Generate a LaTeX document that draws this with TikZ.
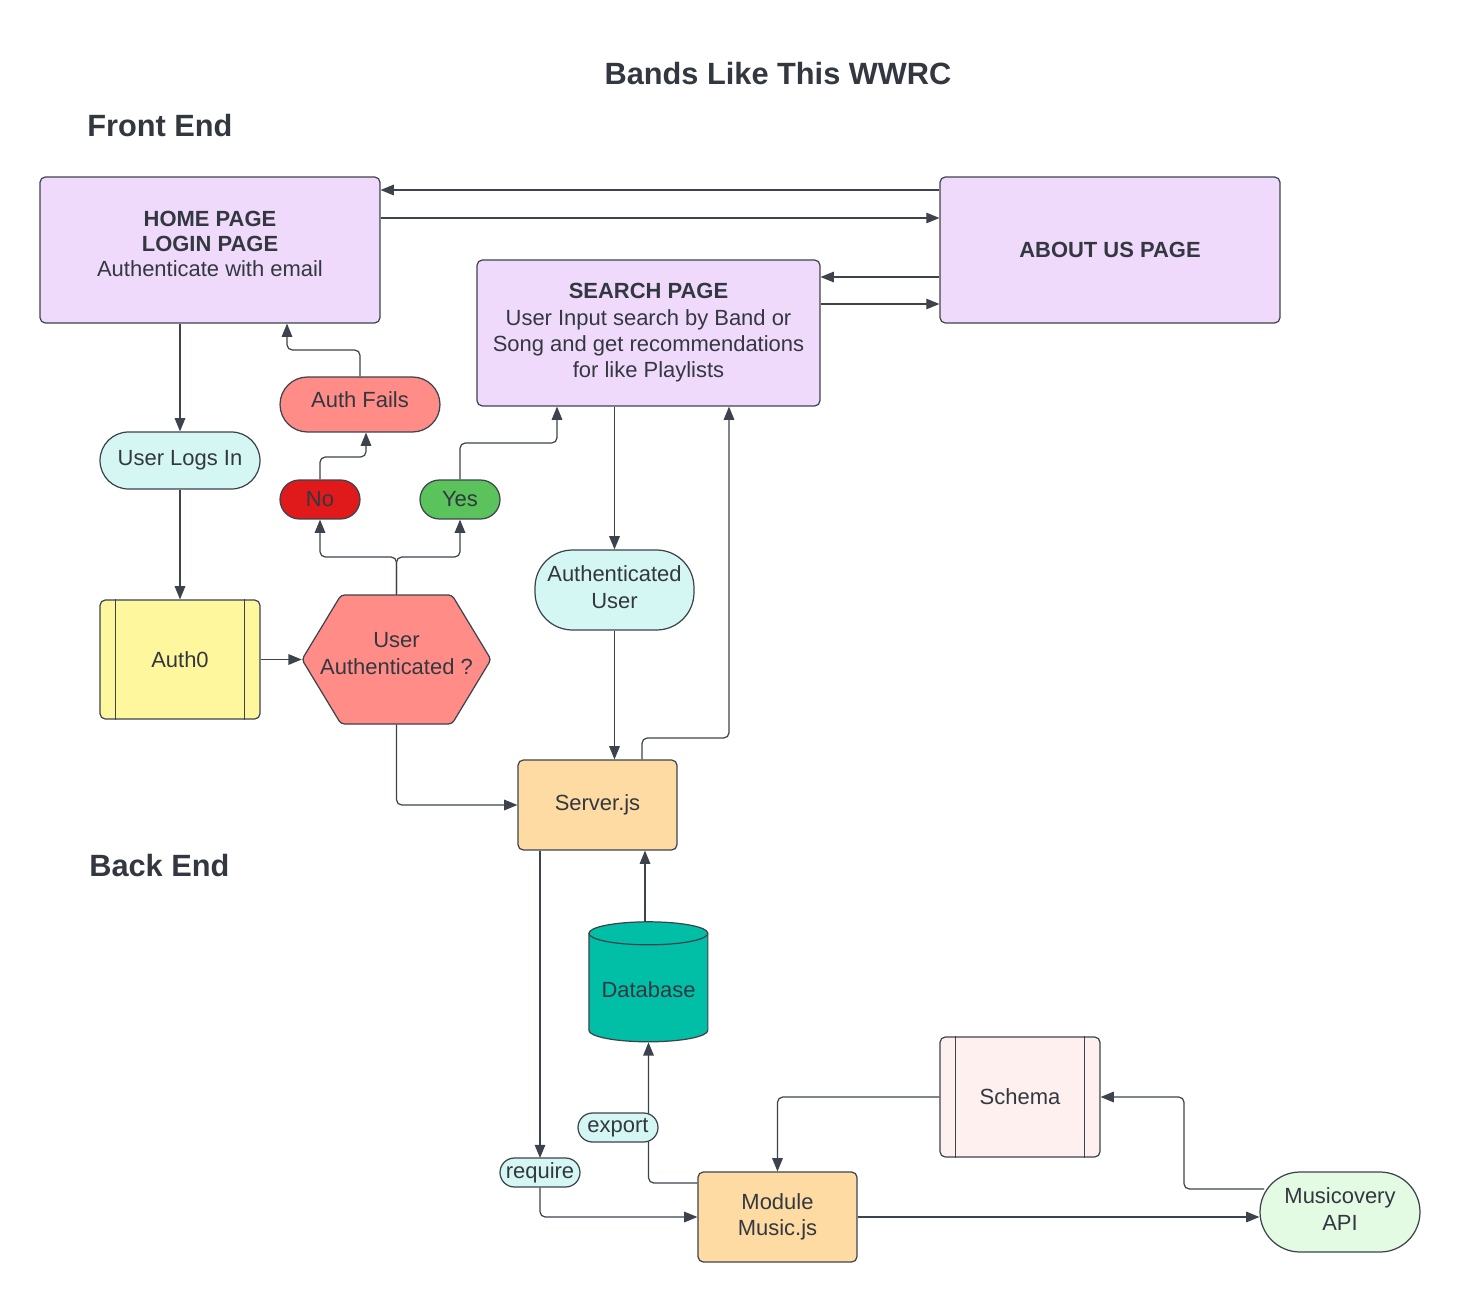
\documentclass[tikz,border=0pt]{standalone}
\usepackage{fontspec}
\setmainfont{Liberation Sans}
\usetikzlibrary{arrows.meta,shapes.misc,calc}
\definecolor{edgec}{HTML}{3D434D}
\definecolor{txtc}{HTML}{333840}
\definecolor{pagec}{HTML}{F0DAFB}
\definecolor{cyanc}{HTML}{D5F7F3}
\definecolor{yellowc}{HTML}{FFF79E}
\definecolor{redc}{HTML}{FF8C87}
\definecolor{noc}{HTML}{E01A1A}
\definecolor{yesc}{HTML}{5AC35C}
\definecolor{orangec}{HTML}{FDDBA2}
\definecolor{dbc}{HTML}{00BFA6}
\definecolor{schemac}{HTML}{FDF0EE}
\definecolor{musicc}{HTML}{E3FAE3}
\newcommand\fsbody{\fontsize{12.5}{15}\selectfont}
\newcommand\fshead{\fontsize{12.5}{14}\selectfont\bfseries}
\newcommand\fsplain{\fontsize{12.5}{14}\selectfont\mdseries}
\begin{document}
\begin{tikzpicture}[x=0.02cm,y=-0.02cm,
  base/.style={draw=edgec, line width=0.7pt, text=txtc, font=\fsbody, align=center, inner sep=0pt},
  page/.style={base, fill=pagec, rounded corners=3pt, minimum width=6.8cm, minimum height=2.92cm},
  pill/.style={base, rounded rectangle, fill=cyanc},
  proc/.style={base, rounded corners=3pt, minimum width=3.18cm, minimum height=1.8cm, fill=orangec},
  sub/.style={base, rounded corners=3pt, minimum width=3.2cm},
  ghost/.style={inner sep=0pt, text=txtc, font=\fsbody, align=center},
  arr/.style={draw=edgec, line width=0.7pt, -{Triangle[length=7.5pt,width=6pt]}, rounded corners=3pt},
  heading/.style={font=\fontsize{17.5}{20}\selectfont\bfseries, text=txtc, inner sep=0pt}
]
\useasboundingbox[fill=white] (0,0) rectangle (1460,1304);

% titles
\node[heading] (title) at (778,74) {Bands Like This WWRC};
\node[heading, anchor=west] (front) at (87,126) {Front End};
\node[heading, anchor=west] (back) at (89,866) {Back End};

% pages
\node[page, font=\fshead] (home) at (210,250) {HOME PAGE\\LOGIN PAGE\\\fsplain Authenticate with email\\[-7pt]};
\node[page, font=\fshead] (about) at (1110,250) {ABOUT US PAGE};
\node[page, minimum width=6.86cm] (search) at (648.5,333) {\textbf{SEARCH PAGE}\\User Input search by Band or\\Song and get recommendations\\for like Playlists};

% front-end flow
\node[pill, minimum width=3.2cm, minimum height=1.14cm] (logs) at (180,460.5) {User Logs In};
\node[sub, fill=yellowc, minimum height=2.38cm] (auth0) at (180,659.5) {Auth0};
\draw[edgec, line width=0.7pt] ($(auth0.north west)+(16,0)$) -- ($(auth0.south west)+(16,0)$);
\draw[edgec, line width=0.7pt] ($(auth0.north east)+(-16,0)$) -- ($(auth0.south east)+(-16,0)$);

\draw[draw=edgec, line width=0.7pt, fill=redc, rounded corners=2pt]
  (302,659.5) -- (341,595) -- (452,595) -- (491,659.5) -- (452,724) -- (341,724) -- cycle;
\node[ghost, minimum width=3.78cm, minimum height=2.58cm] (hex) at (396.5,659.5) {};
\node[ghost] (hextext) at (396.5,653.5) {User\\Authenticated ?};

\node[pill, fill=noc, minimum width=1.6cm, minimum height=0.78cm] (no) at (320,499.5) {No};
\node[pill, fill=yesc, minimum width=1.6cm, minimum height=0.78cm] (yes) at (460,499.5) {Yes};
\node[pill, fill=redc, minimum width=3.2cm, minimum height=1.1cm] (fails) at (360,404.5) {Auth Fails\\[-9.5pt]};

\node[base, fill=cyanc, rounded corners=0.75cm, minimum width=3.18cm, minimum height=1.6cm] (authuser) at (614.5,590) {Authenticated\\User\\[-11.5pt]};
\node[proc] (server) at (597.5,805) {Server.js};

% back end
\draw[draw=edgec, line width=0.7pt, fill=dbc]
  (11.78cm,-18.67cm) -- (11.78cm,-20.61cm)
  arc[start angle=180, end angle=360, x radius=1.19cm, y radius=0.23cm]
  -- (14.16cm,-18.67cm)
  arc[start angle=0, end angle=180, x radius=1.19cm, y radius=0.23cm] -- cycle;
\draw[draw=edgec, line width=0.7pt]
  (11.78cm,-18.67cm) arc[start angle=180, end angle=360, x radius=1.19cm, y radius=0.23cm];
\node[ghost, minimum width=2.38cm, minimum height=2.4cm] (db) at (648.5,982) {};
\node[ghost] (dbtext) at (648.5,990) {Database};

\node[proc] (module) at (777.5,1217) {Module\\Music.js};
\node[sub, fill=schemac, minimum height=2.4cm] (schema) at (1020,1097) {Schema};
\draw[edgec, line width=0.7pt] ($(schema.north west)+(16,0)$) -- ($(schema.south west)+(16,0)$);
\draw[edgec, line width=0.7pt] ($(schema.north east)+(-16,0)$) -- ($(schema.south east)+(-16,0)$);
\node[pill, fill=musicc, minimum width=3.2cm, minimum height=1.6cm] (music) at (1340,1212) {Musicovery\\API\\[-11.5pt]};

% connectors between pages
\draw[arr] (about.west |- 0,190) -- (home.east |- 0,190);
\draw[arr] (home.east |- 0,218) -- (about.west |- 0,218);
\draw[arr] (about.west |- 0,277) -- (search.east |- 0,277);
\draw[arr] (search.east |- 0,304) -- (about.west |- 0,304);

% login flow
\draw[arr] (logs.north |- home.south) -- (logs.north);
\draw[arr] (logs.south) -- (auth0.north);
\draw[arr] (auth0.east) -- (hex.west);
\draw[arr] (hex.north) -- (396.5,557) -| (no.south);
\draw[arr] (hex.north) -- (396.5,557) -| (yes.south);
\draw[arr] (no.north) |- (366,457) -- (fails.south -| 366,0);
\draw[arr] (fails.north) |- (287,350) -- (home.south -| 287,0);
\draw[arr] (yes.north) |- (557,443) -- (search.south -| 557,0);
\draw[arr] (authuser.north |- search.south) -- (authuser.north);
\draw[arr] (authuser.south) -- (authuser.south |- server.north);
\draw[arr] (server.north -| 642,0) |- (729,738) -- (search.south -| 729,0);
\draw[arr] (hex.south) |- (server.west);

% back-end flow
\draw[arr] (server.south -| 540,0) -- (540,1158);
\node[pill, minimum width=1.6cm, minimum height=0.58cm] (require) at (540,1172.5) {require};
\draw[arr] (require.south) |- (module.west);
\draw[arr] (module.west |- 0,1183) -| (db.south);
\node[pill, minimum width=1.6cm, minimum height=0.58cm] (export) at (618,1127.5) {export};
\draw[arr] (645,922) -- (server.south -| 645,0);
\draw[arr] (schema.west) -| (module.north);
\draw[arr] (1264,1189) -| (1184,1097) -- (schema.east);
\draw[arr] (module.east) -- (module.east -| music.west);
\end{tikzpicture}
\end{document}
